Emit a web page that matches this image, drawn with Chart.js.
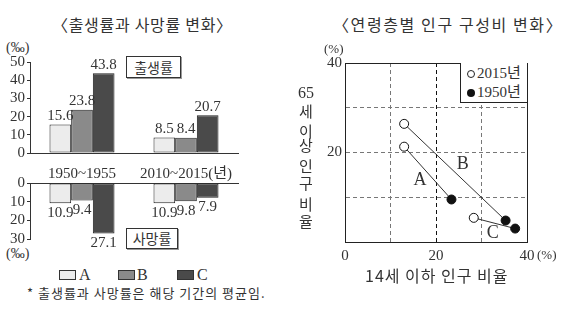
<!DOCTYPE html>
<html>
<head>
<meta charset="utf-8">
<script src="https://cdn.jsdelivr.net/npm/chart.js@4.4.0/dist/chart.umd.min.js"></script>
<style>
  body { margin: 0; width: 567px; height: 319px; background: #fff; position: relative; overflow: hidden; }
  canvas { position: absolute; }
  .t { position: absolute; white-space: nowrap; color: #333; font-family: 'Noto Sans CJK KR', sans-serif; line-height: 1; }
  .num { font-family: 'Liberation Serif', 'Noto Sans CJK KR', serif; }
  .box { position: absolute; border: 1px solid #333; box-shadow: 1px 1px 0 #999; background: #fff; font-family: 'Noto Sans CJK KR', sans-serif; font-size: 14px; color: #333; text-align: center; line-height: 20px; }
  .sw { position: absolute; width: 17px; height: 10px; border: 1px solid #333; box-sizing: border-box; }
</style>
</head>
<body>
<div class="t" style="left:52px;top:16px;font-size:16px;letter-spacing:0.7px;">〈출생률과 사망률 변화〉</div>
<div class="t" style="left:333px;top:16px;font-size:16px;letter-spacing:1.6px;">〈연령층별 인구 구성비 변화〉</div>

<div class="t num" style="left:6px;top:41px;font-size:14px;">(‰)</div>
<div class="t num" style="left:6px;top:247px;font-size:14px;">(‰)</div>
<div class="box" style="left:126px;top:56px;width:53px;height:20px;">출생률</div>
<div class="box" style="left:126px;top:228px;width:50px;height:19px;line-height:19px;">사망률</div>

<div class="sw" style="left:59px;top:270px;background:#ececec;"></div>
<div class="t num" style="left:79px;top:267px;font-size:16px;">A</div>
<div class="sw" style="left:118px;top:270px;background:#8a8a8a;"></div>
<div class="t num" style="left:137px;top:267px;font-size:16px;">B</div>
<div class="sw" style="left:177px;top:270px;background:#4a4a4a;"></div>
<div class="t num" style="left:197px;top:267px;font-size:16px;">C</div>
<div class="t" style="left:27px;top:286px;font-size:13px;letter-spacing:1px;">* 출생률과 사망률은 해당 기간의 평균임.</div>

<canvas id="birthChart" width="250" height="135" style="left:0;top:50px;"></canvas>
<canvas id="deathChart" width="250" height="80" style="left:0;top:170px;"></canvas>
<canvas id="ageChart" width="277" height="225" style="left:290px;top:40px;"></canvas>

<div class="t num" style="left:324px;top:42px;font-size:13px;">(%)</div>
<div class="t num" style="left:537px;top:248px;font-size:13px;">(%)</div>
<div class="t num" style="left:298px;top:85px;font-size:16px;">65</div>
<div class="t" style="left:299px;top:103px;font-size:15px;">세</div>
<div class="t" style="left:299px;top:123px;font-size:15px;">이</div>
<div class="t" style="left:299px;top:137px;font-size:15px;">상</div>
<div class="t" style="left:299px;top:158px;font-size:15px;">인</div>
<div class="t" style="left:299px;top:175px;font-size:15px;">구</div>
<div class="t" style="left:299px;top:196px;font-size:15px;">비</div>
<div class="t" style="left:299px;top:213px;font-size:15px;">율</div>
<div class="t" style="left:365px;top:267px;font-size:16px;letter-spacing:1px;">14세 이하 인구 비율</div>

<div style="position:absolute;left:460px;top:63px;width:67px;height:40px;background:#fff;border-left:1px solid #222;border-bottom:1px solid #222;box-sizing:border-box;">
  <div style="position:absolute;left:6px;top:7px;width:6px;height:6px;border:1px solid #222;border-radius:50%;"></div>
  <div class="t num" style="left:16px;top:3px;font-size:15px;">2015년</div>
  <div style="position:absolute;left:6px;top:26px;width:8px;height:8px;background:#111;border-radius:50%;"></div>
  <div class="t num" style="left:16px;top:22px;font-size:15px;">1950년</div>
</div>

<script>
// left chart: birth / death rate (‰)
var periods = ["1950~1955", "2010~2015(년)"];
var birthA = [15.6, 8.5];
var birthB = [23.8, 8.4];
var birthC = [43.8, 20.7];
var deathA = [10.9, 10.9];
var deathB = [9.4, 9.8];
var deathC = [27.1, 7.9];
var barColors = ["#ececec", "#8a8a8a", "#4a4a4a"];

// right chart: share of age groups (%)
var regions = ["A", "B", "C"];
var young2015 = [13.0, 13.0, 28.3];
var old2015 = [21.3, 26.4, 5.4];
var young1950 = [23.4, 35.3, 37.4];
var old1950 = [9.5, 4.8, 3.0];

Chart.defaults.font.family = "'Liberation Serif', 'Noto Sans CJK KR', serif";
Chart.defaults.font.size = 15;
Chart.defaults.color = "#333";
Chart.defaults.animation = false;

function barSets(a, b, c) {
    return [a, b, c].map(function (d, i) {
        return {
            data: d,
            backgroundColor: barColors[i],
            borderColor: "#222",
            borderWidth: 1,
            borderSkipped: false,
            categoryPercentage: 0.625,
            barPercentage: 1.0
        };
    });
}

// value labels over (or under) each bar
var valueLabels = {
    id: "valueLabels",
    afterDatasetsDraw: function (chart, args, opts) {
        var ctx = chart.ctx;
        ctx.save();
        ctx.font = "15px 'Liberation Serif', serif";
        ctx.fillStyle = "#333";
        ctx.textAlign = "center";
        chart.data.datasets.forEach(function (ds, i) {
            chart.getDatasetMeta(i).data.forEach(function (bar, j) {
                if (opts.below) {
                    ctx.textBaseline = "top";
                    ctx.fillText(ds.data[j].toFixed(1), bar.x, bar.y + 2);
                } else {
                    ctx.textBaseline = "bottom";
                    ctx.fillText(ds.data[j].toFixed(1), bar.x, bar.y - 1);
                }
            });
        });
        ctx.restore();
    }
};

new Chart("birthChart", {
    type: "bar",
    data: { labels: periods, datasets: barSets(birthA, birthB, birthC) },
    options: {
        responsive: false,
        layout: { padding: { top: 12, right: 12, left: 0, bottom: 0 } },
        plugins: { legend: { display: false }, tooltip: { enabled: false }, valueLabels: { below: false } },
        scales: {
            x: {
                grid: { display: false },
                border: { color: "#333" },
                ticks: { padding: 4, font: { size: 15 } },
                afterFit: function (s) { s.height = 32; }
            },
            y: {
                min: 0, max: 50,
                ticks: { stepSize: 10, padding: 2, autoSkip: false },
                grid: { drawOnChartArea: false, tickLength: 3, color: "#333" },
                border: { color: "#333" },
                afterFit: function (s) { s.width = 30; }
            }
        }
    },
    plugins: [valueLabels]
});

new Chart("deathChart", {
    type: "bar",
    data: { labels: periods, datasets: barSets(deathA, deathB, deathC) },
    options: {
        responsive: false,
        layout: { padding: { top: 0, right: 12, left: 0, bottom: 11 } },
        plugins: { legend: { display: false }, tooltip: { enabled: false }, valueLabels: { below: true } },
        scales: {
            x: {
                position: "top",
                grid: { display: false },
                border: { color: "#333" },
                ticks: { display: false },
                afterFit: function (s) { s.height = 13; }
            },
            y: {
                reverse: true,
                min: 0, max: 30,
                ticks: { stepSize: 10, padding: 2, autoSkip: false },
                grid: { drawOnChartArea: false, tickLength: 3, color: "#333" },
                border: { color: "#333" },
                afterFit: function (s) { s.width = 30; }
            }
        }
    },
    plugins: [valueLabels]
});

// solid frame round the plot area and region names
var ageFrame = {
    id: "ageFrame",
    afterDraw: function (chart) {
        var ctx = chart.ctx, a = chart.chartArea;
        var xs = chart.scales.x, ys = chart.scales.y;
        ctx.save();
        ctx.setLineDash([]);
        ctx.strokeStyle = "#222";
        ctx.lineWidth = 1;
        ctx.strokeRect(Math.round(a.left) + 0.5, Math.round(a.top) + 0.5,
            Math.round(a.right - a.left), Math.round(a.bottom - a.top));
        ctx.font = "18px 'Liberation Serif', serif";
        ctx.fillStyle = "#333";
        ctx.textAlign = "center";
        ctx.textBaseline = "middle";
        var spots = [[16.5, 13.9], [25.9, 17.4], [32.5, 2.0]];
        regions.forEach(function (r, i) {
            ctx.fillText(r, xs.getPixelForValue(spots[i][0]), ys.getPixelForValue(spots[i][1]));
        });
        ctx.restore();
    }
};

new Chart("ageChart", {
    type: "scatter",
    data: {
        datasets: regions.map(function (r, i) {
            return {
                label: r,
                data: [{ x: young2015[i], y: old2015[i] }, { x: young1950[i], y: old1950[i] }],
                showLine: true,
                borderColor: "#333",
                borderWidth: 1,
                pointRadius: 4.5,
                pointBorderWidth: 1,
                pointBorderColor: "#111",
                pointBackgroundColor: ["#fff", "#111"]
            };
        })
    },
    options: {
        responsive: false,
        layout: { padding: { top: 23, right: 40, left: 0, bottom: 0 } },
        plugins: { legend: { display: false }, tooltip: { enabled: false } },
        scales: {
            x: {
                min: 0, max: 40,
                ticks: {
                    stepSize: 10, padding: 5, autoSkip: false,
                    callback: function (v) { return v % 20 === 0 ? v : ""; }
                },
                grid: {
                    drawTicks: false,
                    color: function (c) { return c.tick.value === 20 ? "#111" : "#777"; }
                },
                border: { color: "#222", dash: [4, 3] },
                afterFit: function (s) { s.height = 23; }
            },
            y: {
                min: 0, max: 40,
                ticks: {
                    stepSize: 10, padding: 3, autoSkip: false,
                    callback: function (v) { return v === 20 || v === 40 ? v : ""; }
                },
                grid: { drawTicks: false, color: "#777" },
                border: { color: "#222", dash: [4, 3] },
                afterFit: function (s) { s.width = 55; }
            }
        }
    },
    plugins: [ageFrame]
});
</script>
</body>
</html>
